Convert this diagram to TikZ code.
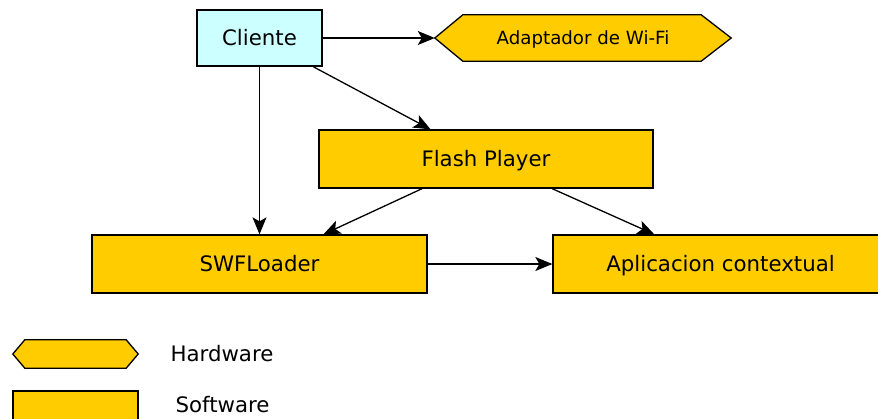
\documentclass[tikz,border=0pt]{standalone}
\usepackage{fontspec}
\setmainfont{DejaVu Sans}
\usetikzlibrary{arrows.meta,backgrounds}
\definecolor{gold}{HTML}{FFCC00}
\definecolor{lcyan}{HTML}{CCFFFF}
\tikzset{
  lbl/.style={font=\fontsize{21.3}{24}\selectfont, text height=15.5pt, text depth=0pt},
  box/.style={lbl, draw=black, line width=1.3pt, inner sep=0pt, fill=gold},
  hexarea/.style={inner sep=0pt},
  hexfill/.style={draw=black, line width=1.3pt, fill=gold, line join=miter},
  conn/.style={line width=1.3pt, -{Stealth[length=17pt,width=14pt,inset=4pt]}},
}
\begin{document}
\begin{tikzpicture}[x=1pt,y=-1pt]
\useasboundingbox (0,0) rectangle (878,418);
% nodes
\node[box, fill=lcyan, minimum width=125pt, minimum height=56pt] (cliente) at (259.5,38) {Cliente};
\node[hexarea, minimum width=296pt, minimum height=46pt, font=\fontsize{18.2}{22}\selectfont, text height=13.3pt, text depth=0pt] (wifi) at (583,38) {Adaptador de Wi-Fi};
\node[box, minimum width=334pt, minimum height=58pt] (flash) at (486,159) {Flash Player};
\node[box, minimum width=335pt, minimum height=58pt] (swf) at (259.5,264) {SWFLoader};
\node[box, minimum width=335pt, minimum height=58pt] (app) at (720.5,264) {Aplicacion contextual};
% legend
\node[hexarea, minimum width=125pt, minimum height=28pt] (hwsym) at (75.5,354) {};
\node[box, minimum width=125pt, minimum height=30pt] (swsym) at (75.5,406) {};
\node[lbl] (hwtxt) at (222,354) {Hardware};
\node[lbl] (swtxt) at (222.5,405) {Software};
% hexagons
\begin{scope}[on background layer]
\draw[hexfill] (wifi.west) -- ([xshift=28pt]wifi.north west) -- ([xshift=-30pt]wifi.north east)
  -- (wifi.east) -- ([xshift=-30pt]wifi.south east) -- ([xshift=28pt]wifi.south west) -- cycle;
\draw[hexfill] (hwsym.west) -- ([xshift=12pt]hwsym.north west) -- ([xshift=-12pt]hwsym.north east)
  -- (hwsym.east) -- ([xshift=-12pt]hwsym.south east) -- ([xshift=12pt]hwsym.south west) -- cycle;
\end{scope}
% connectors
\draw[conn] (cliente.east) -- (wifi.west);
\draw[conn] (cliente) -- (flash);
\draw[conn] (cliente.south) -- (swf.north);
\draw[conn] (flash) -- (swf);
\draw[conn] (flash) -- (app);
\draw[conn] (swf.east) -- (app.west);
\end{tikzpicture}
\end{document}
